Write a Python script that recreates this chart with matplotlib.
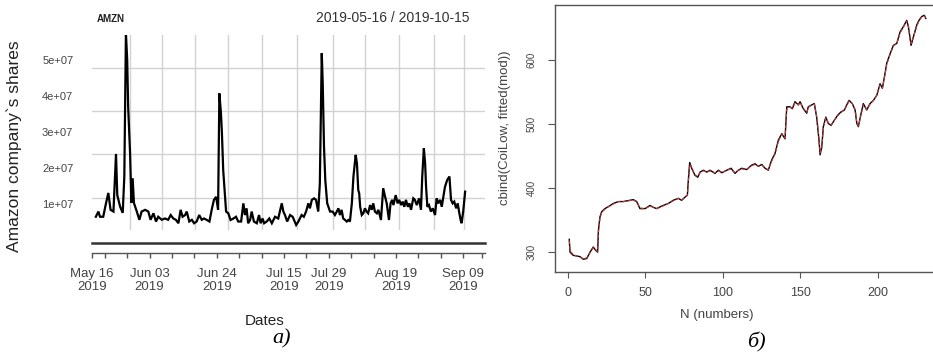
import matplotlib
matplotlib.use("Agg")
import matplotlib.pyplot as plt
import numpy as np

plt.rcParams['font.family'] = ['Liberation Sans', 'DejaVu Sans']

# ---------------- data: panel a) AMZN volume ----------------
vol_days = [1.2, 2.0, 2.5, 3.5, 4.4, 5.1, 5.8, 6.7, 7.5, 7.9,
            8.8, 9.6, 10.1, 10.6, 11.0, 11.3, 11.9, 12.3, 12.7, 13.1,
            14.0, 14.8, 15.5, 16.6, 17.6, 18.3, 19.2, 20.0, 20.7, 21.8,
            22.8, 23.8, 24.6, 25.4, 26.2, 27.0, 27.7, 28.3, 29.1, 29.6,
            30.4, 31.2, 31.9, 32.7, 33.5, 34.3, 35.0, 35.8, 36.7, 37.4,
            38.1, 38.8, 39.4, 39.8,
            40.3, 40.6, 41.0, 41.5, 41.9, 42.6, 43.3, 44.2, 45.0, 45.7,
            46.6, 47.3, 47.8, 48.3, 48.8, 49.4, 49.9, 50.6, 51.5, 52.2,
            52.7, 53.3, 53.8, 54.6, 55.4, 56.2, 57.2, 58.2, 59.3, 59.8,
            60.3, 61.0, 61.9, 62.7, 63.8, 64.5, 65.5, 66.2, 66.9, 67.6,
            68.1, 68.7, 69.4, 70.0, 70.7, 71.2, 71.8, 72.1, 72.5, 72.9,
            73.5, 74.4, 75.2, 75.9,
            76.5, 77.0, 77.5, 78.0, 78.5, 79.1, 79.6, 80.1, 80.6, 81.2,
            81.7, 82.4, 82.8, 83.2, 83.5, 83.8, 84.3, 84.8, 85.3, 85.8,
            86.3, 86.9, 87.4, 87.9, 88.4, 89.0, 89.5, 90.3, 91.0, 91.6,
            92.1, 92.8, 93.3, 93.8, 94.2, 94.9, 95.5, 96.0, 96.6, 97.1,
            97.6, 98.1, 98.7, 99.2, 99.7, 100.4, 100.9, 101.5, 102.2, 102.8,
            103.2, 103.7, 104.1, 104.4, 104.8, 105.3, 105.9, 106.5, 107.2, 107.7,
            108.2, 108.8, 109.3, 109.8, 110.3, 111.0, 111.7, 112.2, 112.7, 113.2,
            113.8, 114.3, 114.7, 115.2, 115.5, 116.0, 116.6]
vol_millions = [5.6, 6.8, 5.6, 5.6, 8.8, 11.1, 7.2, 6.8, 20.1, 10.6,
                7.9, 6.5, 14.9, 48.0, 41.8, 31.0, 20.3, 8.8, 14.5, 8.8,
                6.8, 4.9, 6.8, 7.2, 6.8, 4.9, 6.4, 4.5, 5.6, 4.9,
                5.2, 4.9, 6.0, 5.2, 4.9, 4.1, 7.2, 5.6, 6.0, 6.8,
                4.5, 4.9, 4.1, 4.5, 6.0, 4.9, 5.2, 4.9, 4.5, 7.2,
                9.5, 10.2, 7.2, 34.1,
                29.5, 24.9, 16.4, 11.0, 6.8, 6.4, 4.85, 5.2, 5.6, 4.5,
                4.5, 8.7, 6.0, 7.55, 4.1, 4.85, 6.8, 4.5, 4.1, 6.0,
                4.1, 5.2, 4.1, 4.5, 5.2, 4.1, 5.6, 5.2, 8.7, 6.8,
                6.0, 4.5, 6.0, 5.6, 3.7, 4.5, 6.0, 5.6, 6.8, 8.7,
                7.55, 9.5, 9.85, 9.5, 6.8, 13.3, 43.4, 36.4, 21.8, 14.1,
                8.7, 6.8, 6.8, 6.0,
                6.8, 7.55, 6.0, 7.2, 5.2, 4.85, 4.5, 4.85, 4.5, 8.7,
                14.9, 19.9, 17.9, 11.8, 11.0, 7.9, 6.0, 6.4, 7.55, 6.8,
                6.4, 8.3, 7.2, 8.7, 6.8, 6.4, 7.2, 4.85, 12.2, 10.2,
                8.7, 4.85, 8.7, 9.5, 8.3, 10.6, 8.7, 9.5, 8.3, 9.1,
                7.9, 9.5, 7.9, 8.7, 7.2, 9.85, 9.5, 8.3, 9.85, 7.2,
                14.9, 21.4, 17.9, 12.5, 7.9, 8.3, 6.8, 7.55, 6.0, 9.85,
                8.7, 9.5, 7.9, 10.2, 12.5, 14.1, 14.9, 9.5, 8.7, 9.1,
                7.55, 8.7, 6.8, 4.85, 4.1, 6.8, 11.4]

grid_days = [11.9, 21.8, 32.1, 42.6, 53.2, 64.0, 75.3, 85.4, 95.9, 107.0, 116.3]
grid_values = [1e7, 2e7, 3e7, 4e7]
ytick_values = [1e7, 2e7, 3e7, 4e7, 5e7]
ytick_labels = ["1e+07", "2e+07", "3e+07", "4e+07", "5e+07"]

date_tick_days = [0, 4, 11, 18, 25, 32, 39, 46, 53, 60, 67, 74, 81, 88, 95,
                  102, 109, 116, 122]
date_label_days = [0, 18, 39, 60, 74, 95, 116]
date_labels = ["May 16\n2019", "Jun 03\n2019", "Jun 24\n2019", "Jul 15\n2019",
               "Jul 29\n2019", "Aug 19\n2019", "Sep 09\n2019"]

# ---------------- data: panel б) CoiLow vs fitted ----------------
n_index = [1, 1.5, 3.6, 5.8, 7.9, 10, 12.3, 14.4, 16.5, 18, 19.3, 19.8, 20.8,
           21.9, 24, 26.2, 29.4, 32.7, 35.9, 38, 42.3, 44.5, 46.6, 49.9, 53.1,
           55.2, 57.4, 60.6, 64.9, 68.1, 71.4, 73.5, 75.7, 77.2, 77.8, 78.7,
           80, 82.1, 83.9, 85.4, 87.5, 89.7, 91.8, 95, 97.2, 99.4, 102.6,
           105.4, 107.9, 110.1, 112.3, 115.5, 118.7, 120.8, 123, 125.2, 127.3,
           129.4, 131.6, 133.7, 135.9, 138.1, 140.2, 141.3, 143.4, 144.9,
           146.6, 148.8, 149.9, 152, 154.2, 155.2, 157.4, 159.1, 160.6, 162.1,
           162.8, 163.9, 164.9, 166.5, 168.1, 169.9, 172, 174.2, 176.3, 178.5,
           180, 181.5, 183.6, 185.4, 186.5, 187.5, 189.2, 190.7, 192.9, 195,
           197.2, 199.4, 201.5, 203, 204.7, 205.8, 208, 210.1, 212.3, 214.4,
           216.5, 218.7, 219.8, 221.5, 223, 225.2, 226.6, 228.4, 230.1, 231]
col_low = [320, 300, 295, 294, 293, 289, 290, 300, 308, 303, 300, 334, 355,
           363, 368, 371, 376, 379, 379, 380, 382, 379, 368, 368, 373,
           370, 368, 372, 376, 381, 384, 381, 386, 389, 412, 440,
           431, 420, 417, 425, 428, 425, 428, 423, 428, 424, 428,
           431, 423, 428, 431, 429, 436, 438, 434, 437, 431,
           428, 444, 454, 475, 485, 477, 527, 527, 524,
           535, 530, 535, 524, 517, 527, 530, 532, 511, 475,
           452, 464, 496, 511, 501, 498, 506, 514, 519, 522,
           530, 537, 532, 522, 501, 496, 516, 532, 522, 532,
           537, 545, 563, 556, 579, 595, 610, 623, 626, 644,
           652, 662, 652, 623, 636, 655, 662, 668, 670, 665]
fitted_low = [318, 302, 296, 294, 292, 290, 291, 299, 307, 304, 301, 330, 353,
              362, 367, 371, 375, 379, 379, 380, 381, 379, 369, 368, 372,
              370, 368, 371, 376, 380, 384, 382, 385, 389, 408, 437,
              432, 421, 418, 424, 427, 425, 427, 424, 427, 424, 428,
              430, 424, 428, 430, 429, 435, 437, 434, 436, 431,
              429, 442, 453, 473, 484, 478, 523, 526, 525,
              533, 530, 534, 525, 518, 526, 530, 531, 512, 478,
              455, 465, 493, 510, 502, 499, 506, 513, 518, 522,
              529, 536, 532, 523, 503, 497, 514, 530, 523, 531,
              537, 545, 561, 556, 577, 593, 609, 622, 626, 642,
              651, 661, 652, 626, 636, 653, 661, 667, 669, 666]
x_ticks_b = [0, 50, 100, 150, 200]
y_ticks_b = [300, 400, 500, 600]

# ---------------- layout helpers ----------------
W, H = 933, 358
fig = plt.figure(figsize=(W / 100, H / 100), dpi=100)


def rect(l, t, r, b):
    return [l / W, 1 - b / H, (r - l) / W, (b - t) / H]


def px(x, y):
    return x / W, 1 - y / H


X_MAX = (485 - 92) / 3.2

# ---- panel a: main line ----
ax = fig.add_axes(rect(92, 35, 485, 230))
ax.plot(vol_days, np.array(vol_millions) * 1e6, color='black', lw=1.6,
        solid_joinstyle='miter', zorder=3)
ax.set_xlim(0, X_MAX)
ax.set_ylim((241 - 230) * 0.231e6, (241 - 35) * 0.231e6)
ax.set_xticks(grid_days)
ax.set_yticks(grid_values)
ax.tick_params(length=0, labelleft=False, labelbottom=False)
ax.grid(True, color='#d2d2d2', lw=1.0)
for s in ax.spines.values():
    s.set_visible(False)

# ---- panel a: y tick labels (own scale, as in the source image) ----
axl = fig.add_axes(rect(92, 35, 485, 230), frameon=False)
axl.set_ylim((240 - 230) / 36 * 1e7, (240 - 35) / 36 * 1e7)
axl.set_yticks(ytick_values)
axl.set_yticklabels(ytick_labels)
axl.set_xticks([])
axl.tick_params(axis='y', length=0, pad=13.5, labelsize=8, labelcolor='#444444')
axl.patch.set_visible(False)

# ---- panel a: date axis ----
axd = fig.add_axes(rect(92, 243, 485, 253))
axd.set_xlim(0, X_MAX)
axd.set_ylim(0, 1)
axd.set_yticks([])
axd.patch.set_visible(False)
axd.spines['left'].set_visible(False)
axd.spines['right'].set_visible(False)
axd.spines['top'].set_linewidth(1.8)
axd.spines['top'].set_color('#333333')
axd.spines['bottom'].set_linewidth(1.0)
axd.spines['bottom'].set_color('#555555')
axd.set_xticks(date_tick_days)
lab_map = dict(zip(date_label_days, date_labels))
axd.set_xticklabels([lab_map.get(d, "") for d in date_tick_days])
axd.tick_params(axis='x', length=3.6, width=1.0, color='#555555', pad=7,
                labelsize=9.5, labelcolor='#444444')
for t in axd.get_xticklabels():
    t.set_linespacing(1.1)

fig.text(*px(97, 19), "AMZN", fontsize=7, fontweight='bold', ha='left',
         va='center', color='#222222')
fig.text(*px(470, 18), "2019-05-16 / 2019-10-15", fontsize=10, ha='right',
         va='center', color='#333333')
fig.text(*px(14, 146), "Amazon company`s shares", fontsize=12.5, rotation=90,
         ha='center', va='center', color='#222222')
fig.text(*px(265, 321), "Dates", fontsize=11, ha='center', va='center',
         color='#222222')
fig.text(*px(282, 339), "a)", fontsize=16, style='italic', ha='center',
         va='center', family=['Liberation Serif', 'DejaVu Serif'])

# ---- panel б ----
axb = fig.add_axes(rect(555, 5, 941.6, 272))
axb.plot(n_index, col_low, color='black', lw=1.0, zorder=2)
axb.plot(n_index, fitted_low, color='#cc3b3b', lw=0.8, ls=(0, (3, 2)), zorder=3)
axb.set_xlim(-8.2, 241.2)
axb.set_ylim(269, 686)
axb.set_xticks(x_ticks_b)
axb.set_yticks(y_ticks_b)
for s in axb.spines.values():
    s.set_color('#555555')
    s.set_linewidth(1.0)
axb.tick_params(axis='x', length=4, color='#555555', pad=7, labelsize=9,
                labelcolor='#444444')
axb.tick_params(axis='y', length=5, color='#555555', pad=8, labelsize=7,
                labelcolor='#444444')
for t in axb.get_yticklabels():
    t.set_rotation(90)
    t.set_va('center')
fig.text(*px(505, 128), "cbind(CoiLow, fitted(mod))", fontsize=9.5, rotation=90,
         ha='center', va='center', color='#444444')
fig.text(*px(717, 315), "N (numbers)", fontsize=9.5, ha='center', va='center',
         color='#444444')
fig.text(*px(756, 342), "б)", fontsize=16, style='italic', ha='center',
         va='center', family=['Liberation Serif', 'DejaVu Serif'])

fig.savefig("out.png", dpi=100)
